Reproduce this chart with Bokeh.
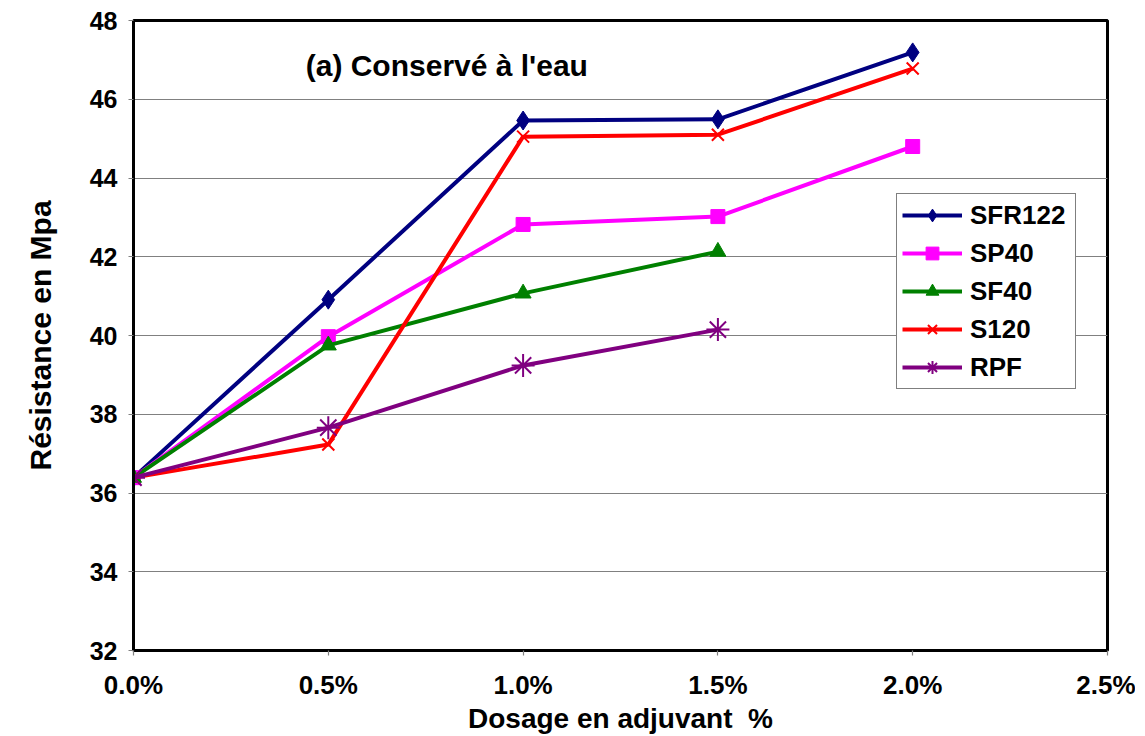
from bokeh.plotting import figure
from bokeh.models import Range1d, FixedTicker, PrintfTickFormatter, Label, Legend
from bokeh.embed import file_html
from bokeh.resources import INLINE

dosage = [0.0, 0.5, 1.0, 1.5, 2.0]
sfr122 = [36.39, 40.91, 45.46, 45.49, 47.19]
sp40 = [36.39, 39.97, 42.82, 43.02, 44.80]
sf40 = [36.39, 39.75, 41.07, 42.13]
s120 = [36.39, 37.23, 45.05, 45.10, 46.78]
rpf = [36.39, 37.66, 39.24, 40.15]

x_ticks = [0.0, 0.5, 1.0, 1.5, 2.0, 2.5]
y_ticks = [32, 34, 36, 38, 40, 42, 44, 46, 48]

FONT = "Liberation Sans"

p = figure(width=1135, height=736, output_backend="svg", toolbar_location=None,
           x_range=Range1d(0, 2.5), y_range=Range1d(32, 48),
           min_border_left=133, min_border_top=20, min_border_right=28, min_border_bottom=86)

p.outline_line_color = "black"
p.outline_line_width = 3
p.xgrid.visible = False
p.ygrid.grid_line_color = "#808080"
p.ygrid.grid_line_width = 1.2

for ax in (p.xaxis[0], p.yaxis[0]):
    ax.axis_line_color = "black"
    ax.axis_line_width = 3
    ax.major_tick_line_color = "#808080"
    ax.major_tick_line_width = 1.2
    ax.major_tick_in = 0
    ax.major_tick_out = 5
    ax.minor_tick_line_color = None
    ax.major_label_text_font = FONT
    ax.major_label_text_font_style = "bold"
    ax.major_label_text_color = "black"
    ax.axis_label_text_font = FONT
    ax.axis_label_text_font_style = "bold"
    ax.axis_label_text_color = "black"

p.xaxis.major_label_text_font_size = "26px"
p.yaxis.major_label_text_font_size = "25px"
p.xaxis.axis_label_text_font_size = "28px"
p.yaxis.axis_label_text_font_size = "30px"

p.xaxis.ticker = FixedTicker(ticks=x_ticks)
p.yaxis.ticker = FixedTicker(ticks=y_ticks)
p.xaxis.formatter = PrintfTickFormatter(format="%.1f%%")
p.xaxis.axis_label = "Dosage en adjuvant \u00a0%"
p.yaxis.axis_label = "Résistance en Mpa"
p.xaxis.major_label_standoff = 14
p.yaxis.major_label_standoff = 11
p.xaxis.axis_label_standoff = 0
p.yaxis.axis_label_standoff = 30

series = [
    ("SFR122", dosage, sfr122, "#000080", "diamond", 19, 1),
    ("SP40", dosage, sp40, "#FF00FF", "square", 14, 1),
    ("SF40", dosage[:4], sf40, "#008000", "triangle", 16, 1),
    ("S120", dosage, s120, "#FF0000", "x", 17, 2),
    ("RPF", dosage[:4], rpf, "#800080", "asterisk", 23, 2),
]

items = []
for name, xs, ys, col, mk, sz, lw in series:
    r1 = p.line(xs, ys, line_color=col, line_width=4)
    r2 = p.scatter(xs, ys, marker=mk, size=sz, fill_color=col, line_color=col, line_width=lw)
    items.append((name, [r1, r2]))

legend = Legend(items=items, location=(763, 261), margin=0)
legend.border_line_color = "black"
legend.border_line_width = 1.5
legend.background_fill_color = "white"
legend.background_fill_alpha = 1
legend.label_text_font = FONT
legend.label_text_font_style = "bold"
legend.label_text_font_size = "26px"
legend.label_text_color = "black"
legend.glyph_width = 60
legend.glyph_height = 32
legend.label_height = 32
legend.label_width = 100
legend.spacing = 6
legend.padding = 5
legend.label_standoff = 8
p.add_layout(legend, "center")

title = Label(x=0.442, y=46.86, text="(a) Conservé à l'eau", text_font=FONT,
              text_font_style="bold", text_font_size="30px", text_baseline="middle",
              text_color="black")
p.add_layout(title)

open("out.html", "w").write(file_html(p, INLINE))
